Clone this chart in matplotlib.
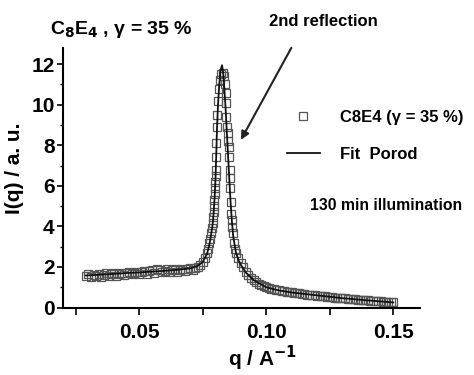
import matplotlib
matplotlib.use("Agg")
import matplotlib.pyplot as plt
from matplotlib.ticker import MultipleLocator

plt.rcParams['font.family'] = ['Liberation Sans', 'DejaVu Sans']
plt.rcParams['font.weight'] = 'bold'

q_data = [0.029, 0.030, 0.031, 0.032, 0.033, 0.034, 0.035, 0.036, 0.037, 0.038,
          0.039, 0.040, 0.041, 0.042, 0.043, 0.044, 0.045, 0.046, 0.047, 0.048,
          0.049, 0.050, 0.051, 0.052, 0.053, 0.054, 0.055, 0.056, 0.057, 0.058,
          0.059, 0.060, 0.061, 0.062, 0.063, 0.064, 0.065, 0.066, 0.067, 0.068,
          0.069, 0.070, 0.071, 0.072, 0.073, 0.074, 0.075, 0.0760, 0.0767, 0.0772,
          0.0776, 0.0780, 0.0783, 0.0786, 0.0789, 0.0791, 0.0793, 0.0795, 0.0796, 0.0797,
          0.0798, 0.0800, 0.0801, 0.0802, 0.0803, 0.0804, 0.0805, 0.0807, 0.0809, 0.0813,
          0.0817, 0.0822, 0.0828, 0.0833, 0.0837, 0.0841, 0.0842, 0.0843, 0.0846, 0.0848,
          0.0851, 0.0853, 0.0855, 0.0856, 0.0858, 0.0859, 0.0861, 0.0863, 0.0864, 0.0866,
          0.0868, 0.0872, 0.0877, 0.0882, 0.0890, 0.0901, 0.091, 0.092, 0.093, 0.094,
          0.095, 0.096, 0.097, 0.098, 0.099, 0.100, 0.101, 0.102, 0.103, 0.104,
          0.105, 0.106, 0.107, 0.108, 0.109, 0.110, 0.111, 0.112, 0.113, 0.114,
          0.115, 0.116, 0.117, 0.118, 0.119, 0.120, 0.121, 0.122, 0.123, 0.124,
          0.125, 0.126, 0.127, 0.128, 0.129, 0.130, 0.131, 0.132, 0.133, 0.134,
          0.135, 0.136, 0.137, 0.138, 0.139, 0.140, 0.141, 0.142, 0.143, 0.144,
          0.145, 0.146, 0.147, 0.148, 0.149, 0.150]
I_data = [1.55, 1.65, 1.48, 1.62, 1.55, 1.66, 1.52, 1.62, 1.68, 1.55,
          1.64, 1.70, 1.57, 1.67, 1.72, 1.60, 1.69, 1.75, 1.63, 1.72,
          1.77, 1.65, 1.75, 1.80, 1.67, 1.78, 1.84, 1.71, 1.92, 1.86,
          1.74, 1.82, 1.88, 1.75, 1.85, 1.90, 1.77, 1.87, 1.92, 1.79,
          1.89, 1.94, 1.86, 1.96, 2.00, 2.10, 2.25, 2.45, 2.68, 2.90,
          3.17, 3.40, 3.67, 3.90, 4.15, 4.45, 4.70, 5.00, 5.30, 5.60,
          5.90, 6.20, 6.80, 6.50, 7.40, 8.10, 8.90, 9.50, 10.20, 10.80,
          11.20, 11.50, 11.55, 11.40, 11.00, 10.60, 10.10, 9.40, 8.90, 8.60,
          8.20, 7.90, 7.40, 6.80, 6.40, 5.90, 5.20, 4.60, 4.30, 3.95,
          3.67, 3.17, 2.90, 2.68, 2.45, 2.19, 2.00, 1.75, 1.60, 1.47,
          1.36, 1.26, 1.18, 1.12, 1.06, 1.00, 0.97, 0.93, 0.90, 0.87,
          0.85, 0.82, 0.80, 0.78, 0.77, 0.75, 0.73, 0.71, 0.70, 0.67,
          0.66, 0.64, 0.63, 0.61, 0.60, 0.59, 0.57, 0.56, 0.55, 0.53,
          0.52, 0.51, 0.49, 0.48, 0.47, 0.46, 0.45, 0.44, 0.42, 0.41,
          0.40, 0.39, 0.38, 0.37, 0.36, 0.35, 0.34, 0.33, 0.32, 0.31,
          0.30, 0.29, 0.28, 0.27, 0.26, 0.25]

# Porod fit curve
q_fit = [0.029, 0.035, 0.040, 0.045, 0.050, 0.055, 0.060, 0.065, 0.070, 0.073,
         0.075, 0.0767, 0.0776, 0.0783, 0.0789, 0.0793, 0.0797, 0.0800, 0.0803, 0.0806,
         0.0810, 0.0815, 0.0820, 0.0826, 0.0830, 0.0835, 0.0840, 0.0845, 0.0850, 0.0855,
         0.0860, 0.0865, 0.0870, 0.0880, 0.0890, 0.0900, 0.0920, 0.0950, 0.100, 0.105,
         0.110, 0.120, 0.130, 0.140, 0.150]
I_fit = [1.58, 1.62, 1.66, 1.70, 1.73, 1.77, 1.81, 1.86, 1.93, 2.05,
         2.25, 2.65, 3.10, 3.60, 4.10, 4.70, 5.50, 6.30, 7.50, 8.80,
         10.00, 11.00, 11.70, 11.95, 11.60, 10.80, 9.80, 8.60, 7.40, 6.20,
         5.10, 4.20, 3.50, 2.75, 2.35, 2.10, 1.72, 1.35, 1.00, 0.84,
         0.74, 0.60, 0.46, 0.35, 0.25]

x_ticks = [0.05, 0.10, 0.15]
x_ticklabels = ['0.05', '0.10', '0.15']
y_ticks = [0, 2, 4, 6, 8, 10, 12]

fig = plt.figure(figsize=(4.74, 3.75), dpi=100)
ax = fig.add_axes([0.133, 0.18, 0.753, 0.692])

ax.plot(q_data, I_data, 's', mfc='none', mec='#555555', ms=6, mew=0.9,
        label='C8E4 (\u03b3 = 35 %)')
ax.plot(q_fit, I_fit, '-', color='#111111', lw=1.3, label='Fit  Porod')

ax.set_xlim(0.02, 0.1605)
ax.set_ylim(0, 12.8)
ax.set_xticks(x_ticks)
ax.set_xticklabels(x_ticklabels)
ax.xaxis.set_minor_locator(MultipleLocator(0.025))
ax.set_yticks(y_ticks)
ax.yaxis.set_minor_locator(MultipleLocator(1))

for s in ['top', 'right']:
    ax.spines[s].set_visible(False)
for s in ['left', 'bottom']:
    ax.spines[s].set_linewidth(1.5)

ax.tick_params(axis='x', which='both', direction='out', length=5, width=1.2,
               labelsize=15, pad=6)
ax.tick_params(axis='y', which='major', direction='out', length=4, width=1.2,
               labelsize=15, pad=2)
ax.tick_params(axis='y', which='minor', direction='out', length=2, width=1)
for lab in ax.get_xticklabels() + ax.get_yticklabels():
    lab.set_fontweight('bold')

fig.text(15 / 474, 1 - 168 / 375, 'I(q) / a. u.', rotation=90, fontsize=15,
         fontweight='bold', ha='center', va='center')
fig.text(262 / 474, 1 - 358 / 375, 'q / A$^{\\mathbf{-1}}$', fontsize=15,
         fontweight='bold', ha='center', va='center')
fig.text(50 / 474, 1 - 30 / 375, 'C$_\\mathbf{8}$E$_\\mathbf{4}$ , \u03b3 = 35 %',
         fontsize=14, fontweight='bold', ha='left', va='center')

fig.text(323 / 474, 1 - 22 / 375, '2nd reflection', fontsize=12,
         fontweight='bold', ha='center', va='center')
ax.annotate('', xy=(0.0895, 8.15), xytext=(0.1104, 12.93), annotation_clip=False,
            arrowprops=dict(arrowstyle='-|>', color='#222222', lw=1.5,
                            mutation_scale=12))

ax.legend(loc='upper left', bbox_to_anchor=(0.627, 0.76), frameon=False,
          borderpad=0, borderaxespad=0,
          handlelength=2.0, handletextpad=1.2, labelspacing=1.3,
          prop={'weight': 'bold', 'size': 12})

fig.text(310 / 474, 1 - 205 / 375, '130 min illumination', fontsize=11.3,
         fontweight='bold', ha='left', va='center')

fig.savefig('out.png', dpi=100)
